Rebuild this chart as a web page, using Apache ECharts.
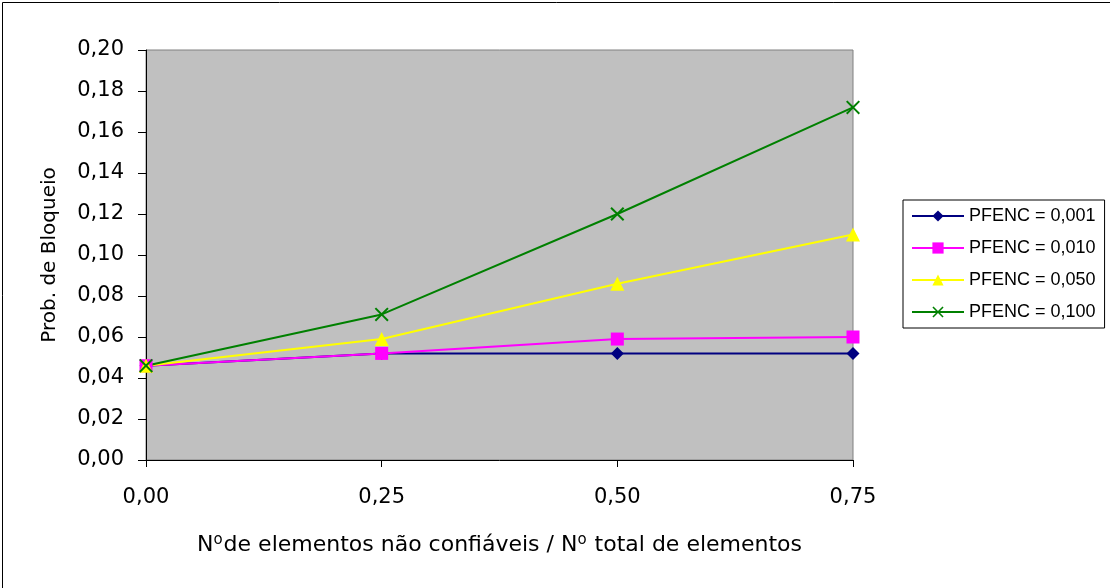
<!DOCTYPE html>
<html>
<head>
<meta charset="utf-8">
<script src="https://cdn.jsdelivr.net/npm/echarts@6/dist/echarts.min.js"></script>
<style>
  html, body { margin: 0; padding: 0; background: #ffffff; }
  #chart { width: 1110px; height: 588px; }
</style>
</head>
<body>
<div id="chart"></div>
<script>
// Fraction of unreliable elements (x) and blocking probability per PFENC level
var xValues = [0, 0.25, 0.50, 0.75];
var pfenc001 = [0.046, 0.052, 0.052, 0.052];
var pfenc010 = [0.046, 0.052, 0.059, 0.060];
var pfenc050 = [0.046, 0.059, 0.086, 0.110];
var pfenc100 = [0.046, 0.071, 0.120, 0.172];
var seriesNames = ['PFENC = 0,001', 'PFENC = 0,010', 'PFENC = 0,050', 'PFENC = 0,100'];

function pairs(ys) {
  return xValues.map(function (x, i) { return [x, ys[i]]; });
}
function comma(v, d) {
  return v.toFixed(d).replace('.', ',');
}

var FONT = 'Liberation Sans, Arial, sans-serif';
var AXFONT = 'DejaVu Sans, Liberation Sans, sans-serif';
var crossPath = 'path://M0,1 L1,0 L5,4 L9,0 L10,1 L6,5 L10,9 L9,10 L5,6 L1,10 L0,9 L4,5 Z';

var chart = echarts.init(document.getElementById('chart'), null, { renderer: 'canvas' });

function lineSeries(name, ys, color, symbol, size) {
  return {
    name: name,
    type: 'line',
    data: pairs(ys),
    symbol: symbol,
    symbolSize: size,
    showAllSymbol: true,
    lineStyle: { color: color, width: 2 },
    itemStyle: { color: color, borderWidth: 0 },
    animation: false,
    emphasis: { disabled: true }
  };
}

chart.setOption({
  backgroundColor: '#ffffff',
  textStyle: { fontFamily: FONT, color: '#000' },
  graphic: [{
    type: 'rect',
    shape: { x: 2.5, y: 2.5, width: 1120, height: 600 },
    style: { fill: 'none', stroke: '#000', lineWidth: 1 },
    silent: true
  }],
  grid: {
    left: 146, right: 257, top: 50, bottom: 128,
    show: true,
    backgroundColor: '#C0C0C0',
    borderColor: '#808080',
    borderWidth: 1
  },
  legend: {
    orient: 'vertical',
    left: 903, top: 200,
    width: 200,
    padding: [7, 9, 7, 8],
    itemWidth: 52, itemHeight: 14, itemGap: 14,
    borderColor: '#000', borderWidth: 1,
    backgroundColor: '#fff',
    textStyle: { fontFamily: FONT, fontSize: 18, color: '#000' },
    data: seriesNames
  },
  xAxis: {
    type: 'value',
    min: 0, max: 0.75, interval: 0.25,
    name: 'N{sup|o}de elementos não confiáveis / N{sup|o} total de elementos',
    nameLocation: 'middle',
    nameGap: 73,
    nameTextStyle: {
      fontFamily: AXFONT, fontSize: 22, color: '#000',
      rich: { sup: { fontFamily: AXFONT, fontSize: 15, verticalAlign: 'top', padding: [0, 1, 10, 0] } }
    },
    axisLine: { show: true, onZero: false, lineStyle: { color: '#000', width: 1 } },
    axisTick: { show: true, inside: false, length: 7, lineStyle: { color: '#000' } },
    axisLabel: { margin: 27, fontFamily: AXFONT, fontSize: 21, color: '#000',
      formatter: function (v) { return comma(v, 2); } },
    splitLine: { show: false }
  },
  yAxis: {
    type: 'value',
    min: 0, max: 0.20, interval: 0.02,
    name: 'Prob. de Bloqueio',
    nameLocation: 'middle',
    nameGap: 86,
    nameTextStyle: { fontFamily: AXFONT, fontSize: 20, color: '#000' },
    axisLine: { show: true, lineStyle: { color: '#000', width: 1 } },
    axisTick: { show: true, inside: false, length: 8, lineStyle: { color: '#000' } },
    axisLabel: { margin: 22, fontFamily: AXFONT, fontSize: 21, color: '#000',
      formatter: function (v) { return comma(v, 2); } },
    splitLine: { show: false }
  },
  series: [
    lineSeries(seriesNames[0], pfenc001, '#000080', 'diamond', 13),
    lineSeries(seriesNames[1], pfenc010, '#FF00FF', 'rect', 13),
    lineSeries(seriesNames[2], pfenc050, '#FFFF00', 'triangle', 14),
    lineSeries(seriesNames[3], pfenc100, '#008000', crossPath, 14)
  ]
});
</script>
</body>
</html>
